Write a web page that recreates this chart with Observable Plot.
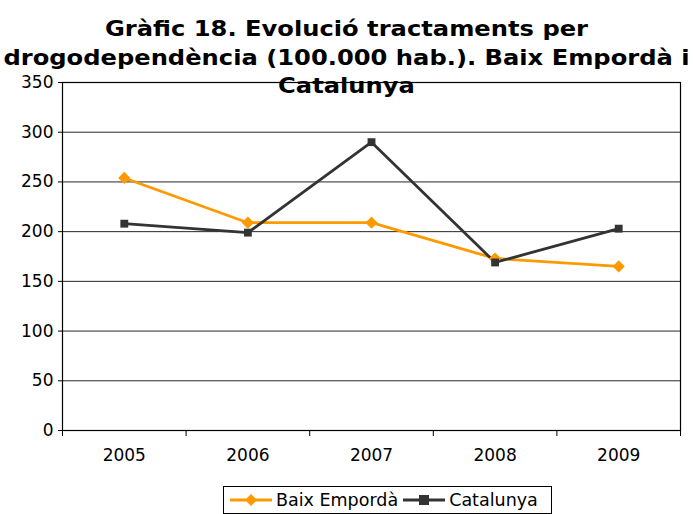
<!DOCTYPE html>
<html>
<head>
<meta charset="utf-8">
<script src="https://cdn.jsdelivr.net/npm/d3@7"></script>
<script src="https://cdn.jsdelivr.net/npm/@observablehq/plot@0.6"></script>
<style>
  html, body { margin: 0; padding: 0; background: #fff; }
  #wrap { position: relative; width: 693px; height: 514px; font-family: "DejaVu Sans", Verdana, sans-serif; }
  #title { position: absolute; left: 0; top: 15px; width: 693px; text-align: center; font-weight: bold; font-size: 20.5px; line-height: 28.5px; color: #000; z-index: 2; transform: scaleX(1.18); transform-origin: 346.5px 0; }
  #legend { position: absolute; left: 223px; top: 486px; width: 329px; height: 28px; border: 1px solid #000; box-sizing: border-box; display: flex; align-items: center; font-size: 17.5px; color: #000; background: #fff; }
  #legend svg { display: block; }
  #legend span { white-space: nowrap; }
</style>
</head>
<body>
<div id="wrap">
  <div id="title">Gràfic 18. Evolució tractaments per<br>drogodependència (100.000 hab.). Baix Empordà i<br>Catalunya</div>
  <div id="chart"></div>
  <div id="legend"></div>
</div>
<script>
const years = [2005, 2006, 2007, 2008, 2009];
const baixEmporda = [254, 209, 209, 173, 165];
const catalunya = [208, 199, 290, 169, 203];
const seriesNames = ["Baix Empordà", "Catalunya"];
const seriesColors = ["#ff9900", "#333333"];
const yTicks = [0, 50, 100, 150, 200, 250, 300, 350];

const data = [
  ...years.map((y, i) => ({year: y, value: baixEmporda[i], series: seriesNames[0]})),
  ...years.map((y, i) => ({year: y, value: catalunya[i], series: seriesNames[1]}))
];
const bounds = [years[0] - 0.5, ...years.map(y => y + 0.5)];

const chart = Plot.plot({
  width: 693,
  height: 514,
  marginLeft: 62,
  marginRight: 13,
  marginTop: 82,
  marginBottom: 84,
  style: {fontFamily: "DejaVu Sans, Verdana, sans-serif", fontSize: "17px", background: "#fff", color: "#000"},
  x: {domain: [bounds[0], bounds[bounds.length - 1]]},
  y: {domain: [0, 350]},
  color: {domain: seriesNames, range: seriesColors},
  marks: [
    Plot.gridY(yTicks, {stroke: "#000", strokeOpacity: 0.85, strokeWidth: 1}),
    Plot.frame({stroke: "#000", strokeWidth: 1.2}),
    Plot.axisY({ticks: yTicks, tickSize: 4, tickPadding: 5, label: null, fontSize: 17, stroke: "#000"}),
    Plot.axisX({ticks: bounds, tickSize: 6, tickFormat: () => "", label: null, stroke: "#000"}),
    Plot.axisX({ticks: years, tickSize: 0, tickPadding: 18, tickFormat: d => String(d), label: null, fontSize: 17}),
    Plot.line(data, {x: "year", y: "value", z: "series", stroke: "series", strokeWidth: 2.8}),
    Plot.dot(data.filter(d => d.series === seriesNames[0]), {x: "year", y: "value", symbol: "diamond2", r: 5.5, fill: seriesColors[0], stroke: "none"}),
    Plot.dot(data.filter(d => d.series === seriesNames[1]), {x: "year", y: "value", symbol: "square2", r: 5, fill: seriesColors[1], stroke: "none"})
  ]
});
document.getElementById("chart").appendChild(chart);

// Legend
const legend = document.getElementById("legend");
function sample(color, shape) {
  const ns = "http://www.w3.org/2000/svg";
  const svg = document.createElementNS(ns, "svg");
  svg.setAttribute("width", 44); svg.setAttribute("height", 20);
  const line = document.createElementNS(ns, "line");
  line.setAttribute("x1", 1); line.setAttribute("x2", 43); line.setAttribute("y1", 10); line.setAttribute("y2", 10);
  line.setAttribute("stroke", color); line.setAttribute("stroke-width", 2.8);
  svg.appendChild(line);
  if (shape === "diamond") {
    const p = document.createElementNS(ns, "path");
    p.setAttribute("d", "M22,4L28,10L22,16L16,10Z"); p.setAttribute("fill", color);
    svg.appendChild(p);
  } else {
    const r = document.createElementNS(ns, "rect");
    r.setAttribute("x", 17); r.setAttribute("y", 5); r.setAttribute("width", 10); r.setAttribute("height", 10); r.setAttribute("fill", color);
    svg.appendChild(r);
  }
  return svg;
}
const pad = document.createElement("div"); pad.style.width = "5px"; legend.appendChild(pad);
legend.appendChild(sample(seriesColors[0], "diamond"));
const t1 = document.createElement("span"); t1.textContent = seriesNames[0]; t1.style.marginLeft = "3px"; t1.style.marginRight = "4px"; legend.appendChild(t1);
legend.appendChild(sample(seriesColors[1], "square"));
const t2 = document.createElement("span"); t2.textContent = seriesNames[1]; t2.style.marginLeft = "3px"; legend.appendChild(t2);
</script>
</body>
</html>
